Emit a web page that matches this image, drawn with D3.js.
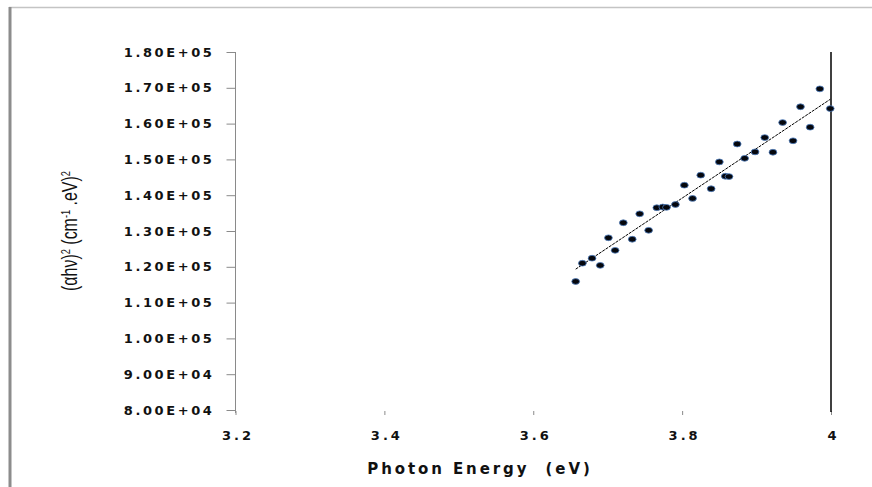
<!DOCTYPE html>
<html>
<head>
<meta charset="utf-8">
<script src="https://cdn.jsdelivr.net/npm/d3@7"></script>
<style>
  body { margin: 0; background: #fff; }
  text { white-space: pre; }
</style>
</head>
<body>
<div id="chart"></div>
<script>
var width = 872;
var height = 487;

// photon energy (eV) and (alpha h nu)^2 values
var energy = [3.657, 3.666, 3.679, 3.690, 3.701, 3.710, 3.721, 3.733, 3.743, 3.755,
  3.766, 3.774, 3.779, 3.791, 3.803, 3.814, 3.825, 3.839, 3.850, 3.858,
  3.863, 3.874, 3.884, 3.898, 3.911, 3.922, 3.935, 3.949, 3.959, 3.972,
  3.985, 3.999];
var absorb = [1.159e5, 1.210e5, 1.224e5, 1.204e5, 1.281e5, 1.246e5, 1.323e5, 1.277e5, 1.348e5, 1.302e5,
  1.365e5, 1.367e5, 1.366e5, 1.374e5, 1.428e5, 1.391e5, 1.456e5, 1.418e5, 1.493e5, 1.453e5,
  1.452e5, 1.543e5, 1.503e5, 1.521e5, 1.561e5, 1.520e5, 1.603e5, 1.552e5, 1.647e5, 1.590e5,
  1.697e5, 1.642e5];

var xTicks = [3.2, 3.4, 3.6, 3.8, 4.0];
var xTickLabels = ["3.2", "3.4", "3.6", "3.8", "4"];
var yTicks = [8e4, 9e4, 1e5, 1.1e5, 1.2e5, 1.3e5, 1.4e5, 1.5e5, 1.6e5, 1.7e5, 1.8e5];
var yTickLabels = ["8.00E+04", "9.00E+04", "1.00E+05", "1.10E+05", "1.20E+05", "1.30E+05",
  "1.40E+05", "1.50E+05", "1.60E+05", "1.70E+05", "1.80E+05"];

var svg = d3.select("#chart")
  .append("svg")
  .attr("width", width)
  .attr("height", height);

// page frame
svg.append("line")
  .attr("x1", 9).attr("x2", width)
  .attr("y1", 7.5).attr("y2", 7.5)
  .style("stroke", "#c4c4c4")
  .style("stroke-width", 1.5);
svg.append("line")
  .attr("x1", 10).attr("x2", 10)
  .attr("y1", 7).attr("y2", height)
  .style("stroke", "#8c8c8c")
  .style("stroke-width", 3);

var x = d3.scaleLinear().domain([3.2, 4.0]).range([235.5, 831]);
var y = d3.scaleLinear().domain([8e4, 1.8e5]).range([410, 52]);

// y axis
var yAxis = svg.append("g")
  .attr("transform", "translate(235.5,0)")
  .call(d3.axisLeft(y).tickValues(yTicks).tickSize(9).tickFormat(""));
yAxis.select(".domain").attr("d", "M0,52V413").style("stroke", "#8a8a8a");
yAxis.selectAll(".tick line").style("stroke", "#8a8a8a");

svg.selectAll(".ylab")
  .data(yTicks)
  .enter().append("text")
  .attr("class", "ylab")
  .attr("x", 214.5)
  .attr("y", function(d) { return y(d); })
  .attr("dy", "0.36em")
  .attr("text-anchor", "end")
  .style("font-family", "'DejaVu Sans', Verdana, sans-serif")
  .style("font-weight", "bold")
  .style("font-size", "13px")
  .style("letter-spacing", "2.6px")
  .style("fill", "#111")
  .text(function(d, i) { return yTickLabels[i]; });

// x axis: only tick marks, no line
var xAxis = svg.append("g")
  .attr("transform", "translate(0,411)")
  .call(d3.axisBottom(x).tickValues(xTicks).tickSize(4).tickFormat(""));
xAxis.select(".domain").remove();
xAxis.selectAll(".tick line").style("stroke", "#8a8a8a");

svg.selectAll(".xlab")
  .data(xTicks)
  .enter().append("text")
  .attr("class", "xlab")
  .attr("x", function(d) { return x(d) + 2.5; })
  .attr("y", 440)
  .attr("text-anchor", "middle")
  .style("font-family", "'DejaVu Sans', Verdana, sans-serif")
  .style("font-weight", "bold")
  .style("font-size", "13px")
  .style("letter-spacing", "3px")
  .style("fill", "#111")
  .text(function(d, i) { return xTickLabels[i]; });

// vertical line at 4 eV
svg.append("line")
  .attr("x1", x(4.0)).attr("x2", x(4.0))
  .attr("y1", y(1.8e5)).attr("y2", 412)
  .style("stroke", "#000")
  .style("stroke-width", 1.5);

// linear trend line (least squares over the points)
var mx = d3.mean(energy), my = d3.mean(absorb);
var sxy = 0, sxx = 0;
for (var i = 0; i < energy.length; i++) {
  sxy += (energy[i] - mx) * (absorb[i] - my);
  sxx += (energy[i] - mx) * (energy[i] - mx);
}
var slope = sxy / sxx;
var icpt = my - slope * mx;
var ex = d3.extent(energy);
svg.append("line")
  .attr("x1", x(ex[0])).attr("y1", y(icpt + slope * ex[0]))
  .attr("x2", x(ex[1])).attr("y2", y(icpt + slope * ex[1]))
  .style("stroke", "#000")
  .style("stroke-width", 1)
  .style("stroke-dasharray", "3,1");

// points
svg.selectAll(".pt")
  .data(energy)
  .enter().append("ellipse")
  .attr("class", "pt")
  .attr("cx", function(d) { return x(d); })
  .attr("cy", function(d, i) { return y(absorb[i]); })
  .attr("rx", 3.9)
  .attr("ry", 2.9)
  .style("fill", "#05070d")
  .style("stroke", "#4f7fc0")
  .style("stroke-width", 0.8);

// axis titles
var yt = svg.append("text")
  .attr("transform", "translate(77,231) rotate(-90) scale(0.84,1.16)")
  .attr("text-anchor", "middle")
  .style("font-family", "'Liberation Sans Narrow', 'Liberation Sans', Arial, sans-serif")
  .style("font-size", "19px")
  .style("fill", "#111");
yt.append("tspan").text("(αhν)");
yt.append("tspan").attr("baseline-shift", "super").style("font-size", "11px").text("2");
yt.append("tspan").text(" (cm");
yt.append("tspan").attr("baseline-shift", "super").style("font-size", "11px").text("-1");
yt.append("tspan").text(" .eV)");
yt.append("tspan").attr("baseline-shift", "super").style("font-size", "11px").text("2");

svg.append("text")
  .attr("x", 480)
  .attr("y", 474)
  .attr("text-anchor", "middle")
  .style("font-family", "'DejaVu Sans', Verdana, sans-serif")
  .style("font-weight", "bold")
  .style("font-size", "15px")
  .style("letter-spacing", "2.9px")
  .style("fill", "#111")
  .text("Photon Energy  (eV)");
</script>
</body>
</html>
